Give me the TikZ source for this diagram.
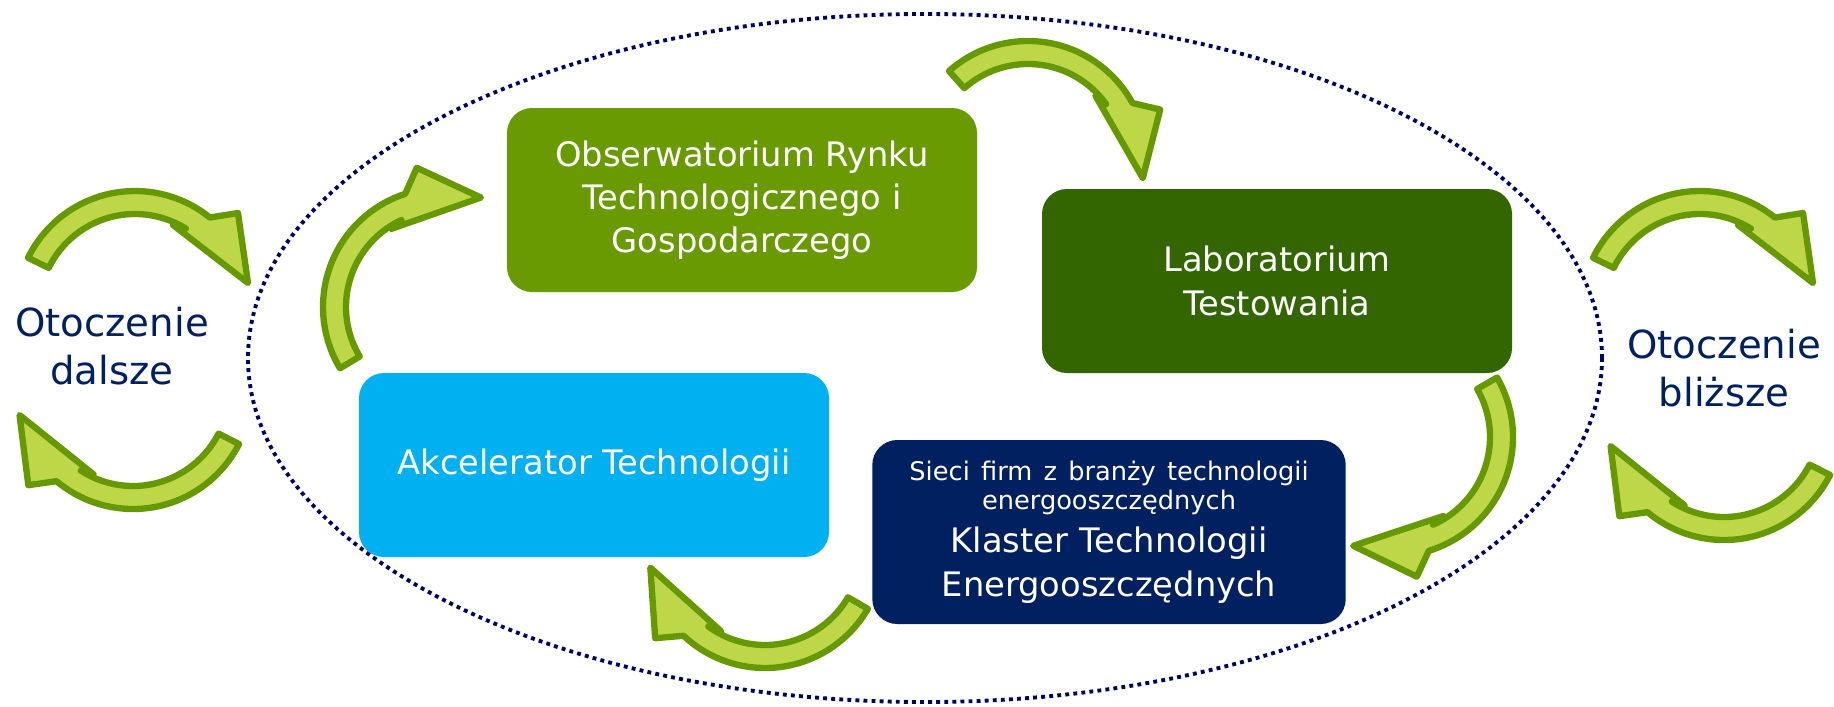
\documentclass[tikz,border=0pt]{standalone}
\usepackage{fontspec}
\setmainfont{DejaVu Sans}
\usepackage{xcolor}

\definecolor{obsgreen}{RGB}{106,154,2}
\definecolor{labgreen}{RGB}{51,102,0}
\definecolor{akccyan}{RGB}{0,176,240}
\definecolor{klanavy}{RGB}{0,32,96}
\definecolor{arrowfill}{RGB}{189,215,72}
\definecolor{arrowedge}{RGB}{102,153,0}
\definecolor{dotnavy}{RGB}{0,0,102}

\tikzset{
  box/.style={rounded corners=0.25cm, minimum width=4.7cm, minimum height=1.84cm,
    text=white, align=center, font=\fontsize{9.6}{12.3}\selectfont},
  env/.style={text=klanavy, align=center, font=\fontsize{11}{13.6}\selectfont},
  arrowline/.style={draw=arrowedge, fill=arrowfill, line width=1.8pt, line join=round},
  cyclearrow/.pic={
    \path[arrowline] (154:1.19) arc[start angle=154, end angle=51, radius=1.19]
      -- (1.03,0.97) -- (1.13,0.27) -- (0.38,0.85) -- (58:0.96)
      arc[start angle=58, end angle=154, radius=0.96] -- cycle;
  }
}

\begin{document}
\begin{tikzpicture}
            \useasboundingbox (0,0) rectangle (18.34,7.06);
            \coordinate (E) at (9.25,3.48);
            \draw[dotnavy, line width=1.1pt, dash pattern=on 1.1pt off 1.2pt] (E) ellipse [x radius=6.77, y radius=3.44];

            \pic (dalszeTop) at (1.35,3.96) {cyclearrow};
            \pic[rotate=179] (dalszeBottom) at (1.33,3.16) {cyclearrow};
            \pic (blizszeTop) at (17.00,3.96) {cyclearrow};
            \pic[rotate=179] (blizszeBottom) at (17.24,2.85) {cyclearrow};

            \pic[rotate=57] (akcToObs) at (4.42,3.99) {cyclearrow};
            \pic[rotate=-22.4] (obsToLab) at (10.28,5.46) {cyclearrow};
            \pic[rotate=-124] (labToKla) at (13.94,2.69) {cyclearrow};
            \pic[rotate=175.8] (klaToAkc) at (7.65,1.57) {cyclearrow};

            \node[box, fill=obsgreen] (obs) at (7.42,5.06) {Obserwatorium Rynku\\ Technologicznego i\\ Gospodarczego};
            \node[box, fill=labgreen] (lab) at (12.77,4.25) {Laboratorium\\ Testowania};
            \node[box, fill=akccyan] (akc) at (5.94,2.41) {Akcelerator Technologii};
            \node[box, fill=klanavy, text width=4.5cm] (kla) at (11.09,1.74)
              {{\fontsize{7.3}{8.3}\selectfont Sieci firm z branży technologii\\ energooszczędnych\par}Klaster Technologii\\ Energooszczędnych};

            \node[env] (dalsze) at (1.12,3.60) {Otoczenie\\ dalsze};
            \node[env] (blizsze) at (17.24,3.38) {Otoczenie\\ bliższe};
        \end{tikzpicture}
\end{document}
